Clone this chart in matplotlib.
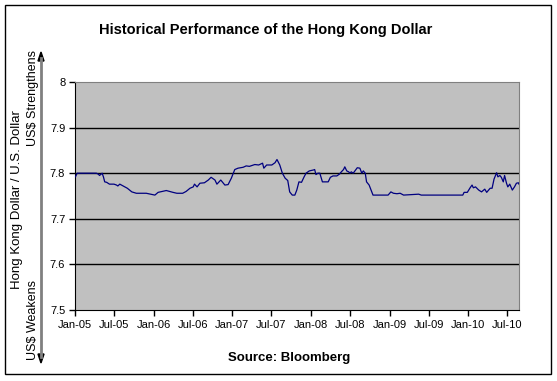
import matplotlib
matplotlib.use("Agg")
import matplotlib.pyplot as plt
import matplotlib.dates as mdates
from matplotlib.patches import Rectangle, Polygon
import pandas as pd

plt.rcParams['font.family'] = ['Liberation Sans', 'DejaVu Sans']

# HKD per USD
dates = ["2005-01-03", "2005-01-05", "2005-01-11", "2005-04-10", "2005-04-19", "2005-04-25",
         "2005-05-07", "2005-05-13", "2005-05-19", "2005-05-28", "2005-06-10", "2005-07-01",
         "2005-07-13", "2005-07-19", "2005-07-28", "2005-08-13", "2005-09-01", "2005-09-22",
         "2005-10-13", "2005-11-28", "2006-01-07", "2006-01-22", "2006-03-01", "2006-04-01",
         "2006-04-19", "2006-05-16", "2006-06-01", "2006-06-19", "2006-07-04", "2006-07-10",
         "2006-07-22", "2006-08-04", "2006-08-25", "2006-09-12", "2006-09-25", "2006-10-13",
         "2006-10-22", "2006-11-09", "2006-11-28", "2006-12-13", "2006-12-28", "2007-01-13",
         "2007-01-28", "2007-02-21", "2007-03-07", "2007-03-22", "2007-04-16", "2007-05-04",
         "2007-05-22", "2007-05-28", "2007-06-10", "2007-07-04", "2007-07-19", "2007-07-28",
         "2007-08-10", "2007-08-22", "2007-09-04", "2007-09-16", "2007-09-25", "2007-10-07",
         "2007-10-19", "2007-10-28", "2007-11-07", "2007-11-19", "2007-12-01", "2007-12-10",
         "2007-12-25", "2008-01-13", "2008-01-19", "2008-01-25", "2008-02-03", "2008-02-12",
         "2008-02-24", "2008-03-22", "2008-04-01", "2008-04-13", "2008-05-01", "2008-05-13",
         "2008-05-22", "2008-06-01", "2008-06-07", "2008-06-16", "2008-06-25", "2008-07-01",
         "2008-07-07", "2008-07-16", "2008-08-04", "2008-08-16", "2008-08-25", "2008-09-01",
         "2008-09-10", "2008-09-16", "2008-09-28", "2008-10-07", "2008-10-16", "2008-12-25",
         "2009-01-07", "2009-01-19", "2009-02-04", "2009-02-19", "2009-03-07", "2009-05-16",
         "2009-05-28", "2009-12-07", "2009-12-13", "2009-12-28", "2010-01-10", "2010-01-19",
         "2010-01-25", "2010-02-04", "2010-02-19", "2010-03-04", "2010-03-19", "2010-03-28",
         "2010-04-13", "2010-04-22", "2010-05-01", "2010-05-13", "2010-05-19", "2010-05-28",
         "2010-06-04", "2010-06-13", "2010-06-19", "2010-06-28", "2010-07-04", "2010-07-13",
         "2010-07-25", "2010-08-04", "2010-08-13", "2010-08-22", "2010-08-25"]
rates = [7.792, 7.794, 7.800, 7.800, 7.798, 7.795,
         7.800, 7.792, 7.781, 7.780, 7.776, 7.776,
         7.774, 7.772, 7.776, 7.772, 7.767, 7.759,
         7.756, 7.756, 7.752, 7.758, 7.762, 7.758,
         7.756, 7.756, 7.760, 7.767, 7.770, 7.776,
         7.770, 7.778, 7.779, 7.785, 7.791, 7.785,
         7.776, 7.785, 7.774, 7.775, 7.789, 7.808,
         7.811, 7.813, 7.816, 7.815, 7.819, 7.818,
         7.822, 7.811, 7.818, 7.818, 7.823, 7.830,
         7.818, 7.800, 7.789, 7.784, 7.759, 7.752,
         7.752, 7.763, 7.781, 7.780, 7.792, 7.800,
         7.805, 7.807, 7.808, 7.797, 7.800, 7.800,
         7.781, 7.781, 7.791, 7.794, 7.794, 7.798,
         7.803, 7.808, 7.814, 7.805, 7.803, 7.800,
         7.803, 7.800, 7.812, 7.811, 7.800, 7.805,
         7.800, 7.781, 7.774, 7.763, 7.752, 7.752,
         7.759, 7.756, 7.755, 7.756, 7.752, 7.754,
         7.752, 7.752, 7.758, 7.758, 7.768, 7.774,
         7.768, 7.770, 7.763, 7.759, 7.765, 7.758,
         7.767, 7.767, 7.787, 7.801, 7.792, 7.795,
         7.791, 7.781, 7.795, 7.778, 7.770, 7.776,
         7.763, 7.770, 7.778, 7.779, 7.776]

y_ticks = [7.5, 7.6, 7.7, 7.8, 7.9, 8.0]
y_labels = ["7.5", "7.6", "7.7", "7.8", "7.9", "8"]
x_ticks = ["2005-01-01", "2005-07-01", "2006-01-01", "2006-07-01", "2007-01-01", "2007-07-01",
           "2008-01-01", "2008-07-01", "2009-01-01", "2009-07-01", "2010-01-01", "2010-07-01"]

x = pd.to_datetime(dates)

W, H = 557, 381
fig = plt.figure(figsize=(W / 100, H / 100), dpi=100)
ax = fig.add_axes([75 / W, 1 - 310 / H, (519 - 75) / W, (310 - 82) / H])

ax.set_facecolor('#C0C0C0')
for yv in y_ticks[1:-1]:
    ax.axhline(yv, color='black', lw=1, zorder=1)
ax.plot(x, rates, color='#000080', lw=0.9, zorder=3)

ax.set_ylim(7.5, 8.0)
ax.set_xlim(pd.Timestamp("2005-01-01"), x[-1])
ax.set_yticks(y_ticks)
ax.set_yticklabels(y_labels)
ax.set_xticks(pd.to_datetime(x_ticks))
ax.xaxis.set_major_formatter(mdates.DateFormatter('%b-%y'))
ax.tick_params(axis='both', direction='out', length=4, width=1, labelsize=8, colors='black', pad=3)

for s in ['top', 'right']:
    ax.spines[s].set_color('#808080')
for s in ['left', 'bottom']:
    ax.spines[s].set_color('black')

fig.text(266 / W, 1 - 30 / H, "Historical Performance of the Hong Kong Dollar",
         ha='center', va='center', fontsize=10.5, fontweight='bold')
fig.text(289 / W, 1 - 358 / H, "Source: Bloomberg",
         ha='center', va='center', fontsize=9.5, fontweight='bold')

fig.text(17 / W, 1 - 200 / H, "Hong Kong Dollar / U.S. Dollar",
         ha='center', va='center', rotation=90, fontsize=9.5)
fig.text(33 / W, 1 - 98 / H, "US$ Strengthens",
         ha='center', va='center', rotation=90, fontsize=9)
fig.text(33 / W, 1 - 320 / H, "US$ Weakens",
         ha='center', va='center', rotation=90, fontsize=9)

# double arrow on the left
fig.add_artist(plt.Line2D([41 / W, 41 / W], [1 - 58 / H, 1 - 357 / H],
                          transform=fig.transFigure, color='#808080', lw=2))
fig.add_artist(Polygon([[38 / W, 1 - 61 / H], [44 / W, 1 - 61 / H], [41 / W, 1 - 52 / H]],
                       closed=True, transform=fig.transFigure, color='black'))
fig.add_artist(Polygon([[38 / W, 1 - 354 / H], [44 / W, 1 - 354 / H], [41 / W, 1 - 363 / H]],
                       closed=True, transform=fig.transFigure, color='black'))

# chart border
fig.add_artist(Rectangle((5 / W, 1 - 374 / H), 546 / W, 369 / H, transform=fig.transFigure,
                         fill=False, edgecolor='black', lw=1))

fig.savefig("out.png", dpi=100)
